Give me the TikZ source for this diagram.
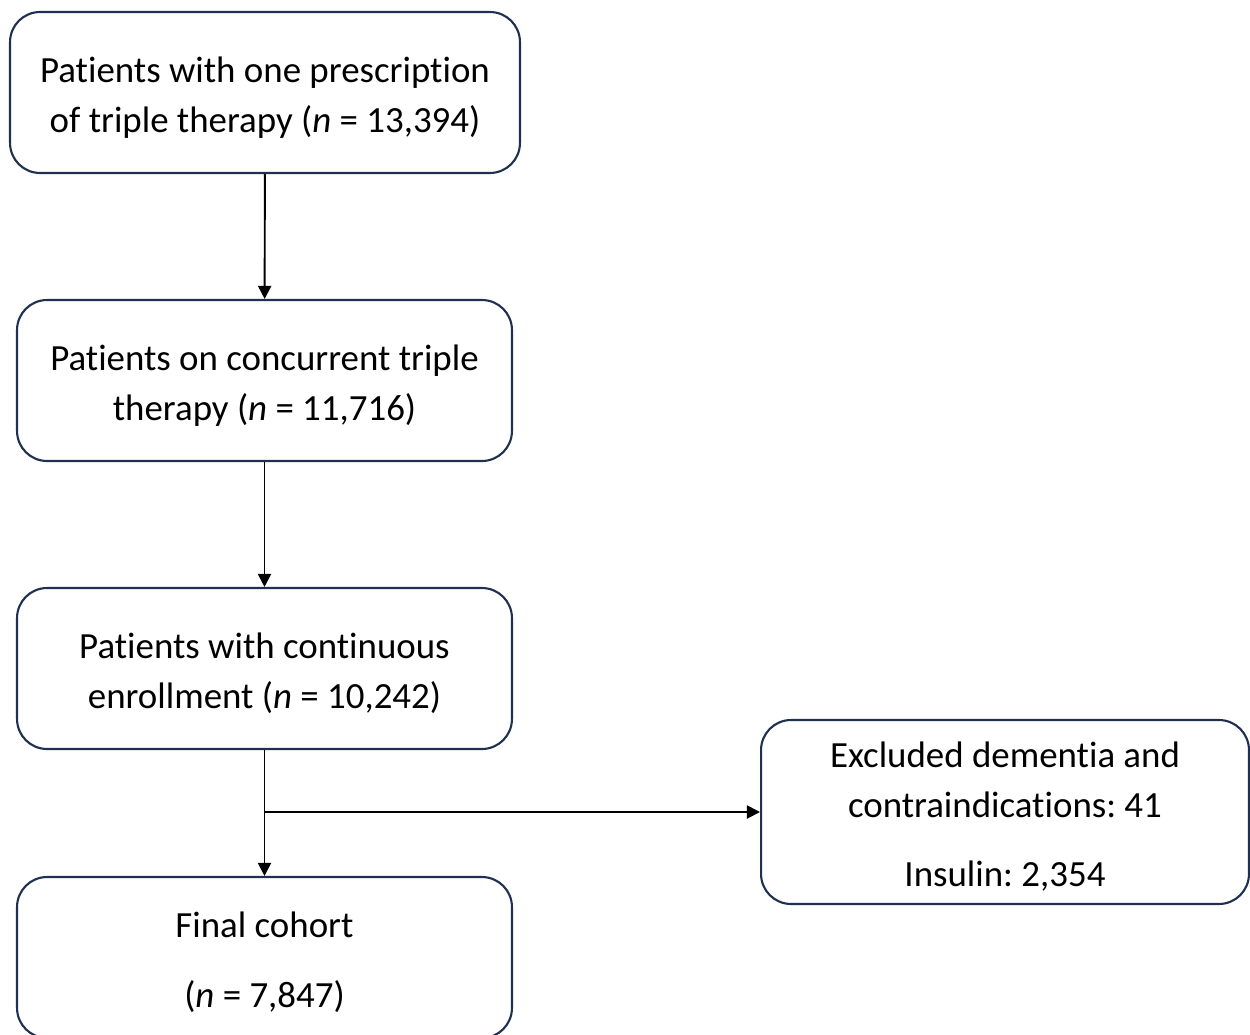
\documentclass[tikz,border=0pt]{standalone}
\usepackage{fontspec}
\setmainfont{Carlito}[Ligatures=NoCommon]
\frenchspacing
\usetikzlibrary{arrows.meta}
\definecolor{boxline}{RGB}{32,48,80}
\newcommand{\toplift}{\rule{0pt}{20pt}}
\begin{document}
\begin{tikzpicture}[x=0.02cm,y=-0.02cm,
        flowbox/.style={draw=boxline,line width=1.2pt,rounded corners=0.6cm,
            align=center,font=\fontsize{21}{28.5}\selectfont,inner sep=0pt},
        flowarrow/.style={-{Triangle[length=7.5pt,width=7.5pt]},line width=1.1pt,black}]
    \useasboundingbox (0,0) rectangle (1250,1034);
    %% main column
    \node[flowbox,minimum width=10.2cm,minimum height=3.22cm] (first) at (265,92.5)
        {\toplift Patients with one prescription\\of triple therapy (\textit{n} = 13,394)};
    \node[flowbox,minimum width=9.9cm,minimum height=3.22cm] (concurrent) at (264.5,380.5)
        {\toplift Patients on concurrent triple\\therapy (\textit{n} = 11,716)};
    \node[flowbox,minimum width=9.9cm,minimum height=3.22cm] (enrol) at (264.5,668.5)
        {\toplift Patients with continuous\\enrollment (\textit{n} = 10,242)};
    \node[flowbox,minimum width=9.9cm,minimum height=3.22cm] (final) at (264.5,957.5)
        {\toplift Final cohort\\[11pt](\textit{n} = 7,847)};
    %% exclusions
    \node[flowbox,minimum width=9.76cm,minimum height=3.68cm] (excl) at (1005,812)
        {\toplift Excluded dementia and\\contraindications: 41\\[11pt]Insulin: 2,354};
    %% arrows
    \draw[flowarrow] (first) -- (concurrent);
    \draw[flowarrow] (concurrent) -- (enrol);
    \draw[flowarrow] (enrol) -- (final);
    \coordinate (split) at (enrol.south |- excl.west);
    \draw[flowarrow] (split) -- (excl.west);
\end{tikzpicture}
\end{document}
